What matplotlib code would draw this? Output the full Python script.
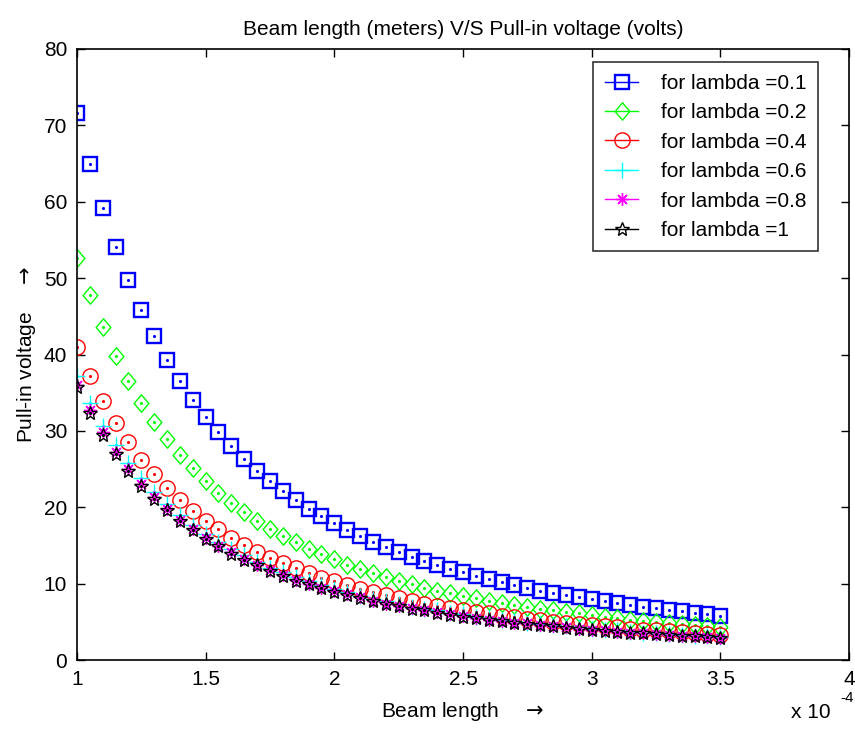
import numpy as np
import matplotlib
matplotlib.use("Agg")
from matplotlib import pyplot as plt
from matplotlib.lines import Line2D
from matplotlib.path import Path
from matplotlib.ticker import FormatStrFormatter

plt.rcParams['font.family'] = ['Liberation Sans', 'DejaVu Sans']

# beam length in units of 1e-4 m
beam_length = [1.00, 1.05, 1.10, 1.15, 1.20, 1.25, 1.30, 1.35, 1.40, 1.45,
               1.50, 1.55, 1.60, 1.65, 1.70, 1.75, 1.80, 1.85, 1.90, 1.95,
               2.00, 2.05, 2.10, 2.15, 2.20, 2.25, 2.30, 2.35, 2.40, 2.45,
               2.50, 2.55, 2.60, 2.65, 2.70, 2.75, 2.80, 2.85, 2.90, 2.95,
               3.00, 3.05, 3.10, 3.15, 3.20, 3.25, 3.30, 3.35, 3.40, 3.45,
               3.50]

v_lambda_01 = [71.6, 64.9, 59.2, 54.1, 49.7, 45.8, 42.4, 39.3, 36.5, 34.1,
               31.8, 29.8, 28.0, 26.3, 24.8, 23.4, 22.1, 20.9, 19.8, 18.8,
               17.9, 17.0, 16.2, 15.5, 14.8, 14.1, 13.5, 13.0, 12.4, 11.9,
               11.5, 11.0, 10.6, 10.2, 9.8, 9.5, 9.1, 8.8, 8.5, 8.2,
               8.0, 7.7, 7.5, 7.2, 7.0, 6.8, 6.6, 6.4, 6.2, 6.0,
               5.8]
v_lambda_02 = [52.7, 47.8, 43.6, 39.8, 36.6, 33.7, 31.2, 28.9, 26.9, 25.1,
               23.4, 21.9, 20.6, 19.4, 18.2, 17.2, 16.3, 15.4, 14.6, 13.9,
               13.2, 12.5, 11.9, 11.4, 10.9, 10.4, 10.0, 9.5, 9.1, 8.8,
               8.4, 8.1, 7.8, 7.5, 7.2, 7.0, 6.7, 6.5, 6.3, 6.1,
               5.9, 5.7, 5.5, 5.3, 5.1, 5.0, 4.8, 4.7, 4.6, 4.4,
               4.3]
v_lambda_04 = [41.0, 37.2, 33.9, 31.0, 28.5, 26.2, 24.3, 22.5, 20.9, 19.5,
               18.2, 17.1, 16.0, 15.1, 14.2, 13.4, 12.7, 12.0, 11.4, 10.8,
               10.3, 9.8, 9.3, 8.9, 8.5, 8.1, 7.8, 7.4, 7.1, 6.8,
               6.6, 6.3, 6.1, 5.8, 5.6, 5.4, 5.2, 5.0, 4.9, 4.7,
               4.6, 4.4, 4.3, 4.1, 4.0, 3.9, 3.8, 3.7, 3.5, 3.4,
               3.3]
v_lambda_06 = [37.2, 33.7, 30.7, 28.1, 25.8, 23.8, 22.0, 20.4, 19.0, 17.7,
               16.5, 15.5, 14.5, 13.7, 12.9, 12.1, 11.5, 10.9, 10.3, 9.8,
               9.3, 8.9, 8.4, 8.0, 7.7, 7.3, 7.0, 6.7, 6.5, 6.2,
               6.0, 5.7, 5.5, 5.3, 5.1, 4.9, 4.7, 4.6, 4.4, 4.3,
               4.1, 4.0, 3.9, 3.7, 3.6, 3.5, 3.4, 3.3, 3.2, 3.1,
               3.0]
v_lambda_08 = [36.0, 32.7, 29.8, 27.2, 25.0, 23.0, 21.3, 19.8, 18.4, 17.1,
               16.0, 15.0, 14.1, 13.2, 12.5, 11.8, 11.1, 10.5, 10.0, 9.5,
               9.0, 8.6, 8.2, 7.8, 7.4, 7.1, 6.8, 6.5, 6.3, 6.0,
               5.8, 5.5, 5.3, 5.1, 4.9, 4.8, 4.6, 4.4, 4.3, 4.1,
               4.0, 3.9, 3.7, 3.6, 3.5, 3.4, 3.3, 3.2, 3.1, 3.0,
               2.9]
v_lambda_10 = [35.7, 32.4, 29.5, 27.0, 24.8, 22.8, 21.1, 19.6, 18.2, 17.0,
               15.9, 14.9, 13.9, 13.1, 12.4, 11.7, 11.0, 10.4, 9.9, 9.4,
               8.9, 8.5, 8.1, 7.7, 7.4, 7.1, 6.7, 6.5, 6.2, 5.9,
               5.7, 5.5, 5.3, 5.1, 4.9, 4.7, 4.6, 4.4, 4.2, 4.1,
               4.0, 3.8, 3.7, 3.6, 3.5, 3.4, 3.3, 3.2, 3.1, 3.0,
               2.9]

labels = ['for lambda =0.1', 'for lambda =0.2', 'for lambda =0.4',
          'for lambda =0.6', 'for lambda =0.8', 'for lambda =1']

# matlab-ish wide diamond
diamond = Path([(0, 1), (0.85, 0), (0, -1), (-0.85, 0), (0, 1)],
               [Path.MOVETO, Path.LINETO, Path.LINETO, Path.LINETO, Path.CLOSEPOLY])

styles = [
    dict(color='#0000ff', marker='s', ms=10.5, mew=1.7),
    dict(color='#00ff00', marker=diamond, ms=12.5, mew=1.0),
    dict(color='#ff0000', marker='o', ms=11, mew=1.0),
    dict(color='#00ffff', marker='+', ms=12, mew=1.0),
    dict(color='#ff00ff', marker=(8, 2, 0), ms=9, mew=1.0),
    dict(color='#000000', marker='*', ms=10, mew=1.0),
]
series = [v_lambda_01, v_lambda_02, v_lambda_04, v_lambda_06, v_lambda_08, v_lambda_10]

fig = plt.figure(figsize=(8.55, 7.31), dpi=100)
ax = fig.add_axes([0.090, 0.097, 0.903, 0.836])

handles = []
for vals, st, lab in zip(series, styles, labels):
    ax.plot(beam_length, vals, linestyle='none', marker=st['marker'],
            ms=st['ms'], mew=st['mew'], mfc='none', mec=st['color'])
    # centre dot
    ax.plot(beam_length, vals, linestyle='none', marker='.', ms=2.5,
            color=st['color'])
    handles.append(Line2D([], [], color=st['color'], lw=1.0,
                          marker=st['marker'], ms=st['ms'], mew=st['mew'],
                          mfc='none', mec=st['color']))

ax.set_xlim(1, 4)
ax.set_ylim(0, 80)
ax.set_xticks(np.arange(1, 4.01, 0.5))
ax.set_yticks(np.arange(0, 81, 10))
ax.xaxis.set_major_formatter(FormatStrFormatter('%g'))
ax.tick_params(direction='in', length=6, width=1, top=True, right=True,
               labelsize=15, pad=7)
for sp in ax.spines.values():
    sp.set_linewidth(1.2)

ax.set_title('Beam length (meters) V/S Pull-in voltage (volts)', fontsize=15, pad=10)
ax.set_xlabel(r'Beam length    $\rightarrow$', fontsize=15, labelpad=8)
ax.set_ylabel(r'Pull-in voltage    $\rightarrow$', fontsize=15, labelpad=4)
fig.text(0.925, 0.012, 'x 10', fontsize=15, ha='left', va='bottom')
fig.text(0.983, 0.035, '-4', fontsize=11, ha='left', va='bottom')

leg = ax.legend(handles, labels, loc='upper right', bbox_to_anchor=(0.96, 0.978),
                fontsize=15, frameon=True, fancybox=False, edgecolor='black',
                handlelength=1.6, handletextpad=1.1, labelspacing=0.5,
                borderpad=0.55, borderaxespad=0)
leg.get_frame().set_linewidth(1.2)

fig.savefig('out.png', dpi=100)
